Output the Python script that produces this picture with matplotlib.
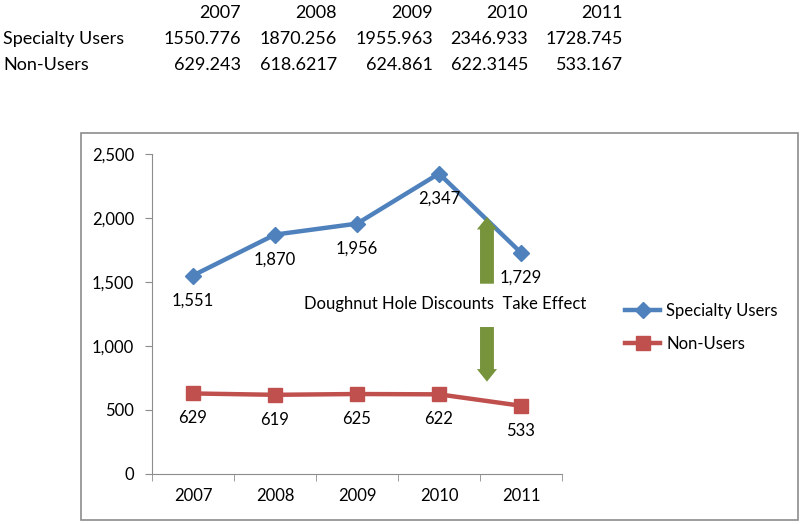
import matplotlib
matplotlib.use("Agg")
import matplotlib.pyplot as plt
from matplotlib.patches import Rectangle
from matplotlib.ticker import FuncFormatter

plt.rcParams['font.family'] = ['Lato', 'DejaVu Sans']

years = ['2007', '2008', '2009', '2010', '2011']
specialty = [1550.776, 1870.256, 1955.963, 2346.933, 1728.745]
nonusers = [629.243, 618.6217, 624.861, 622.3145, 533.167]
specialty_txt = ['1550.776', '1870.256', '1955.963', '2346.933', '1728.745']
nonusers_txt = ['629.243', '618.6217', '624.861', '622.3145', '533.167']
annotation = 'Doughnut Hole Discounts  Take Effect'

W, H = 800, 524
fig = plt.figure(figsize=(8, 5.24), dpi=100)

def fx(px):
    return px / W

def fy(py):
    return 1 - py / H

# table at top
fs_tab = 13
col_right = [241, 337, 433, 528, 623]
rows_y = [13, 39, 65]
for yr, xr in zip(years, col_right):
    fig.text(fx(xr), fy(rows_y[0]), yr, ha='right', va='center', fontsize=fs_tab)
fig.text(fx(3), fy(rows_y[1]), 'Specialty Users', ha='left', va='center', fontsize=fs_tab)
fig.text(fx(3), fy(rows_y[2]), 'Non-Users', ha='left', va='center', fontsize=fs_tab)
for v, xr in zip(specialty_txt, col_right):
    fig.text(fx(xr), fy(rows_y[1]), v, ha='right', va='center', fontsize=fs_tab)
for v, xr in zip(nonusers_txt, col_right):
    fig.text(fx(xr), fy(rows_y[2]), v, ha='right', va='center', fontsize=fs_tab)

# chart border
fig.patches.append(Rectangle((fx(81), fy(520)), fx(798) - fx(81), fy(133) - fy(520),
                             transform=fig.transFigure, fill=False,
                             edgecolor='#8c8c8c', linewidth=1.2))

ax = fig.add_axes([fx(152), fy(474), fx(562) - fx(152), fy(154) - fy(474)])
x = list(range(len(years)))
blue = '#4F81BD'
red = '#C0504D'
green = '#77933C'
ax.plot(x, specialty, color=blue, lw=3.2, marker='D', ms=8.5, label='Specialty Users', zorder=3)
ax.plot(x, nonusers, color=red, lw=3.2, marker='s', ms=9.5, label='Non-Users', zorder=3)

ax.set_xlim(-0.5, 4.5)
ax.set_ylim(0, 2500)
ax.set_yticks([0, 500, 1000, 1500, 2000, 2500])
ax.yaxis.set_major_formatter(FuncFormatter(lambda v, p: f'{int(v):,}'))
ax.set_xticks(x)
ax.set_xticklabels(years)
ax.set_xticks([i - 0.5 for i in range(len(years) + 1)], minor=True)
ax.tick_params(axis='x', which='major', length=0, pad=10, labelsize=12)
ax.tick_params(axis='x', which='minor', length=5, color='#8c8c8c')
ax.tick_params(axis='y', length=5, color='#8c8c8c', labelsize=12, pad=8)
for s in ['top', 'right']:
    ax.spines[s].set_visible(False)
for s in ['left', 'bottom']:
    ax.spines[s].set_color('#8c8c8c')

for xi, v in zip(x, specialty):
    ax.annotate(f'{round(v):,}', (xi, v), xytext=(0, -25), textcoords='offset pixels',
                ha='center', va='center', fontsize=12)
for xi, v in zip(x, nonusers):
    ax.annotate(f'{round(v):,}', (xi, v), xytext=(0, -25), textcoords='offset pixels',
                ha='center', va='center', fontsize=12)

# annotation text and arrows
ax.text(3.07, 1325, annotation, ha='center', va='center', fontsize=12)
arrow_kw = dict(arrowstyle='simple,head_width=1.45,head_length=0.9,tail_width=1.0',
                color=green, lw=0, mutation_scale=10)
ax.annotate('', xy=(3.585, 2030), xytext=(3.585, 1465), arrowprops=arrow_kw)
ax.annotate('', xy=(3.585, 700), xytext=(3.585, 1170), arrowprops=arrow_kw)

ax.legend(loc='upper left', bbox_to_anchor=(fx(625), fy(303)), bbox_transform=fig.transFigure,
          frameon=False, fontsize=12, handlelength=2.1, handletextpad=0.36,
          labelspacing=1.0, borderaxespad=0, borderpad=0)

fig.savefig('out.png', dpi=100)
